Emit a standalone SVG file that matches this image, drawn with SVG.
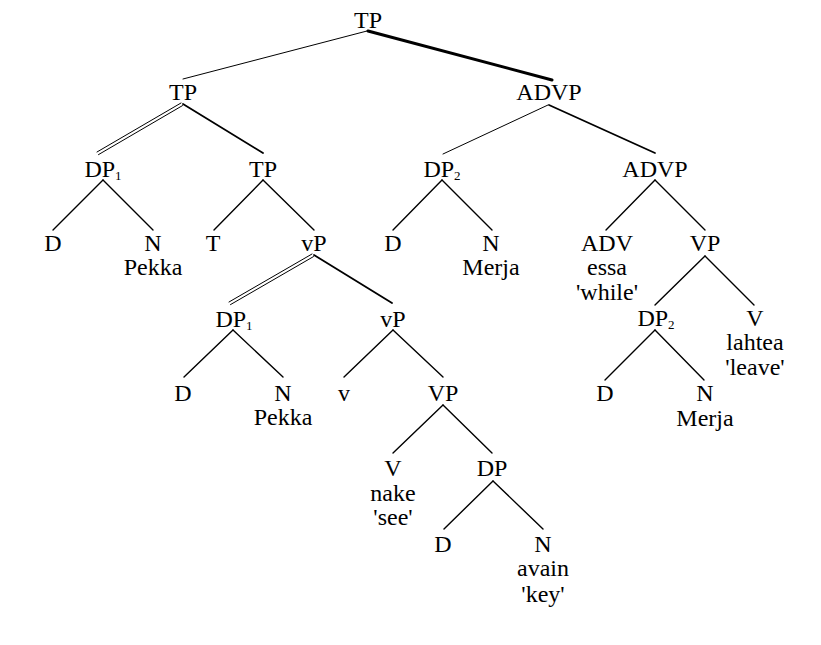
<svg xmlns="http://www.w3.org/2000/svg" width="821" height="645" viewBox="0 0 821 645">
<style>
  text { font-family: "Liberation Serif", "Times New Roman", serif; font-size: 24px; fill: #000; text-anchor: middle; }
  .sub { font-size: 13px; }
  line { stroke: #000; stroke-width: 1.4; stroke-linecap: round; }
  .thin { stroke-width: 1; }
  .mid { stroke-width: 1.8; }
  .thick { stroke-width: 3; }
  .dbl { stroke-width: 1; }
</style>
<rect width="821" height="645" fill="#fff"/>

<g id="connectors">
  <!-- root -->
  <line class="thin" x1="367" y1="31" x2="183" y2="79"/>
  <line class="thick" x1="368" y1="31" x2="552" y2="80"/>
  <!-- TP (left) -->
  <line class="dbl" x1="181" y1="103" x2="97" y2="152"/>
  <line class="dbl" x1="182.5" y1="105.6" x2="98.5" y2="154.6"/>
  <line class="mid" x1="183" y1="104" x2="263" y2="153"/>
  <!-- DP1 upper -->
  <line x1="103" y1="180" x2="53" y2="230"/>
  <line x1="103" y1="180" x2="153" y2="230"/>
  <!-- TP (inner) -->
  <line x1="263" y1="180" x2="214" y2="230"/>
  <line x1="263" y1="180" x2="314" y2="230"/>
  <!-- vP (upper) -->
  <line class="dbl" x1="312" y1="254" x2="229" y2="302"/>
  <line class="dbl" x1="313.5" y1="256.6" x2="230.5" y2="304.6"/>
  <line class="mid" x1="314" y1="255" x2="392" y2="303"/>
  <!-- DP1 lower -->
  <line x1="233" y1="330" x2="184" y2="377"/>
  <line x1="233" y1="330" x2="283" y2="377"/>
  <!-- vP (lower) -->
  <line x1="393" y1="330" x2="344" y2="377"/>
  <line x1="393" y1="330" x2="443" y2="377"/>
  <!-- VP -->
  <line x1="443" y1="405" x2="393" y2="453"/>
  <line x1="443" y1="405" x2="492" y2="453"/>
  <!-- DP object -->
  <line x1="493" y1="481" x2="444" y2="529"/>
  <line x1="493" y1="481" x2="543" y2="529"/>
  <!-- ADVP (upper) -->
  <line class="thin" x1="548" y1="105" x2="443" y2="154"/>
  <line class="mid" x1="549" y1="105" x2="655" y2="153"/>
  <!-- DP2 upper -->
  <line x1="442" y1="180" x2="393" y2="230"/>
  <line x1="442" y1="180" x2="492" y2="230"/>
  <!-- ADVP (lower) -->
  <line x1="655" y1="180" x2="606" y2="230"/>
  <line x1="655" y1="180" x2="705" y2="230"/>
  <!-- VP (right) -->
  <line x1="705" y1="256" x2="655" y2="305"/>
  <line x1="705" y1="256" x2="754" y2="305"/>
  <!-- DP2 lower -->
  <line x1="655" y1="330" x2="605" y2="380"/>
  <line x1="655" y1="330" x2="704" y2="380"/>
</g>

<g id="n-tp-root"><text x="368" y="28">TP</text></g>
<g id="n-tp-1"><text x="183" y="100">TP</text></g>
<g id="n-advp-1"><text x="549" y="100">ADVP</text></g>

<g id="n-dp1-a"><text x="103" y="177">DP<tspan class="sub" dy="3">1</tspan></text></g>
<g id="n-tp-2"><text x="263" y="177">TP</text></g>
<g id="n-dp2-a"><text x="442" y="177">DP<tspan class="sub" dy="3">2</tspan></text></g>
<g id="n-advp-2"><text x="655" y="177">ADVP</text></g>

<g id="n-d-1"><text x="53" y="251">D</text></g>
<g id="n-n-1"><text x="153" y="251">N</text><text x="153" y="275">Pekka</text></g>
<g id="n-t"><text x="213" y="251">T</text></g>
<g id="n-vp-1"><text x="314" y="251">vP</text></g>
<g id="n-d-2"><text x="393" y="251">D</text></g>
<g id="n-n-2"><text x="491" y="251">N</text><text x="491" y="275">Merja</text></g>
<g id="n-adv"><text x="607" y="251">ADV</text><text x="607" y="275">essa</text><text x="607" y="300">'while'</text></g>
<g id="n-vp-r"><text x="705" y="251">VP</text></g>

<g id="n-dp1-b"><text x="234" y="327">DP<tspan class="sub" dy="3">1</tspan></text></g>
<g id="n-vp-2"><text x="393" y="327">vP</text></g>
<g id="n-dp2-b"><text x="656" y="326">DP<tspan class="sub" dy="3">2</tspan></text></g>
<g id="n-v-r"><text x="755" y="326">V</text><text x="755" y="350">lahtea</text><text x="755" y="375">'leave'</text></g>

<g id="n-d-3"><text x="183" y="401">D</text></g>
<g id="n-n-3"><text x="283" y="401">N</text><text x="283" y="425">Pekka</text></g>
<g id="n-v-small"><text x="344" y="401">v</text></g>
<g id="n-vp-3"><text x="443" y="401">VP</text></g>
<g id="n-d-4"><text x="605" y="401">D</text></g>
<g id="n-n-4"><text x="705" y="401">N</text><text x="705" y="426">Merja</text></g>

<g id="n-v"><text x="393" y="476">V</text><text x="393" y="501">nake</text><text x="393" y="525">'see'</text></g>
<g id="n-dp"><text x="492" y="476">DP</text></g>

<g id="n-d-5"><text x="443" y="552">D</text></g>
<g id="n-n-5"><text x="543" y="552">N</text><text x="543" y="576">avain</text><text x="543" y="602">'key'</text></g>
</svg>
